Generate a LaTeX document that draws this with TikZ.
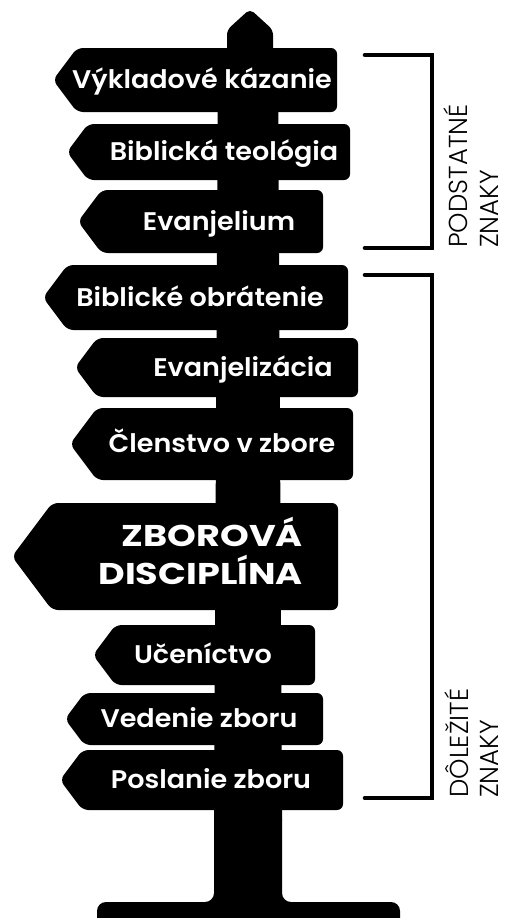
\documentclass[tikz,border=0pt]{standalone}
\usepackage{fontspec}
\newfontfamily\signfont{Poppins SemiBold}
\newfontfamily\bigfont{Poppins Bold}
\newfontfamily\thinfont{Poppins Light}
\tikzset{
  signtext/.style={text=white, inner sep=0pt, anchor=base, xscale=1.06, font=\signfont\fontsize{25.5}{28}\selectfont},
  bigtext/.style={text=white, inner sep=0pt, anchor=base east, xscale=1.22, font=\bigfont\fontsize{30}{32}\selectfont},
  sidetext/.style={text=black, inner sep=0pt, text depth=0pt, anchor=base west, rotate=90, font=\thinfont\fontsize{26}{28}\selectfont},
  bracket/.style={line width=4.6pt, line cap=round, line join=miter},
}
% sign: top, bottom, tip x, right x
\newcommand{\mysign}[4]{%
  \pgfmathsetmacro{\mM}{(#1+#2)/2}%
  \pgfmathsetmacro{\mD}{0.75*(#2-#1)/2}%
  \fill[black, rounded corners=6pt] (#3,\mM) -- (#3+\mD,#1) -- (#4,#1) -- (#4,#2) -- (#3+\mD,#2) -- cycle;%
}
\begin{document}
\begin{tikzpicture}[x=1pt, y=-1pt]
\useasboundingbox (0,0) rectangle (504,918);
\clip (0,0) rectangle (504,918);
% post
\fill[black, rounded corners=5pt] (227,60) -- (227,30) -- (250,9) -- (273,30) -- (273,60) -- cycle;
\fill[black] (218,50) -- (278,50) -- (282,820) -- (214,820) -- cycle;
\fill[black, rounded corners=9pt] (214,800) -- (214,902) -- (97,902) -- (97,940) -- (400,940) -- (400,902) -- (282,902) -- (282,800) -- cycle;
% signs
\mysign{48}{112}{53}{337}
\mysign{124}{180}{67}{350}
\mysign{190}{253}{78}{323}
\mysign{265}{330}{43}{348}
\mysign{338}{397}{75}{358}
\mysign{408}{480}{70}{353}
\mysign{503}{610}{12}{338}
\mysign{625}{685}{93}{315}
\mysign{693}{745}{65}{323}
\mysign{750}{810}{60}{343}
% texts
\node[signtext] (s1) at (202,88.5) {Výkladové kázanie};
\node[signtext] (s2) at (224,160.5) {Biblická teológia};
\node[signtext] (s3) at (219,230) {Evanjelium};
\node[signtext] (s4) at (200,306) {Biblické obrátenie};
\node[signtext] (s5) at (243,376) {Evanjelizácia};
\node[signtext] (s6) at (222,452.5) {Členstvo v zbore};
\node[bigtext] (s7a) at (303,546) {ZBOROVÁ};
\node[bigtext] (s7b) at (303,584) {DISCIPLÍNA};
\node[signtext] (s8) at (203,663.5) {Učeníctvo};
\node[signtext] (s9) at (199,727.5) {Vedenie zboru};
\node[signtext] (s10) at (211,788.5) {Poslanie zboru};
% brackets
\coordinate (b1t) at (365,55);
\coordinate (b1b) at (365,248);
\draw[bracket] (b1t) -- (432,55) -- (432,248) -- (b1b);
\coordinate (b2t) at (365,275);
\coordinate (b2b) at (365,798);
\draw[bracket] (b2t) -- (432,275) -- (432,798) -- (b2b);
% side labels
\node[sidetext] (l1a) at (467,248) {PODSTATNÉ};
\node[sidetext] (l1b) at (498,248) {ZNAKY};
\node[sidetext] (l2a) at (468,798) {DÔLEŽITÉ};
\node[sidetext] (l2b) at (498,798) {ZNAKY};
\end{tikzpicture}
\end{document}
